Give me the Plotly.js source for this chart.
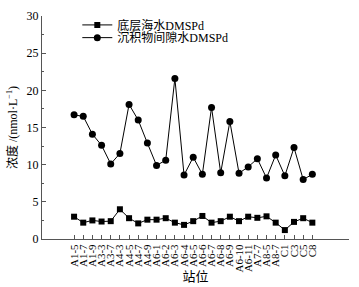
<!DOCTYPE html>
<html><head><meta charset="utf-8">
<script src="https://cdn.plot.ly/plotly-3.0.1.min.js"></script>
<style>html,body{margin:0;padding:0;background:#fff;}#chart{width:359px;height:287px;}</style>
</head><body><div id="chart"></div>
<script>
const stations = ["A1-5","A1-7","A1-9","A3-3","A3-7","A4-3","A4-5","A4-7","A4-9","A6-1","A6-2","A6-3","A6-4","A6-5","A6-6","A6-7","A6-8","A6-9","A6-10","A6-11","A7-7","A8-5","A8-7","C1","C3","C5","C8"];
const bottomWater = [3.0,2.2,2.5,2.35,2.4,4.0,2.8,2.1,2.6,2.6,2.8,2.2,1.9,2.4,3.1,2.2,2.4,3.0,2.4,3.0,2.85,3.05,2.2,1.2,2.3,2.8,2.2];
const poreWater = [16.7,16.5,14.1,12.6,10.1,11.5,18.1,16.0,12.9,9.9,10.6,21.6,8.6,11.0,8.7,17.7,8.9,15.8,8.85,9.7,10.8,8.2,11.3,8.5,12.3,8.0,8.7];
const yTicks = [0,5,10,15,20,25,30];
const serif = "Liberation Serif, Times New Roman, Noto Sans CJK SC, serif";
const traces = [
  {x: stations, y: bottomWater, name: "底层海水DMSPd", type: "scatter", mode: "lines+markers", legend: "legend",
   line: {color: "#000", width: 1}, marker: {symbol: "square", size: 6, color: "#000"}},
  {x: stations, y: poreWater, name: "沉积物间隙水DMSPd", type: "scatter", mode: "lines+markers", legend: "legend2",
   line: {color: "#000", width: 1}, marker: {symbol: "circle", size: 7, color: "#000"}}
];
const legBase = {x: 0.115, xanchor: "left", yanchor: "middle", bgcolor: "rgba(0,0,0,0)",
                 font: {family: serif, size: 12}, itemwidth: 30};
const layout = {
  width: 359, height: 287,
  margin: {l: 42, r: 10, t: 13, b: 48},
  paper_bgcolor: "#fff", plot_bgcolor: "#fff",
  font: {family: serif, color: "#000", size: 12},
  showlegend: true,
  legend: Object.assign({}, legBase, {y: 0.96}),
  legend2: Object.assign({}, legBase, {y: 0.903}),
  xaxis: {type: "category", range: [-3.5, 30], showgrid: false, zeroline: false,
          showline: true, linecolor: "#555", linewidth: 1,
          tickmode: "array", tickvals: stations, ticktext: stations,
          ticks: "inside", ticklen: 4, tickcolor: "#555", tickangle: -90,
          tickfont: {family: serif, size: 11},
          title: {text: "站位", font: {family: serif, size: 13}, standoff: 0}},
  yaxis: {range: [0, 30], showgrid: false, zeroline: false,
          showline: true, linecolor: "#555", linewidth: 1,
          tickmode: "array", tickvals: yTicks, ticks: "inside", ticklen: 4, tickcolor: "#555",
          minor: {tickmode: "linear", dtick: 2.5, ticks: "inside", ticklen: 2, tickcolor: "#555"},
          tickfont: {family: serif, size: 12},
          title: {text: "浓度 /(nmol·L<sup>−1</sup>)", font: {family: serif, size: 12}, standoff: 6}}
};
Plotly.newPlot("chart", traces, layout, {displayModeBar: false, staticPlot: true});
</script></body></html>
